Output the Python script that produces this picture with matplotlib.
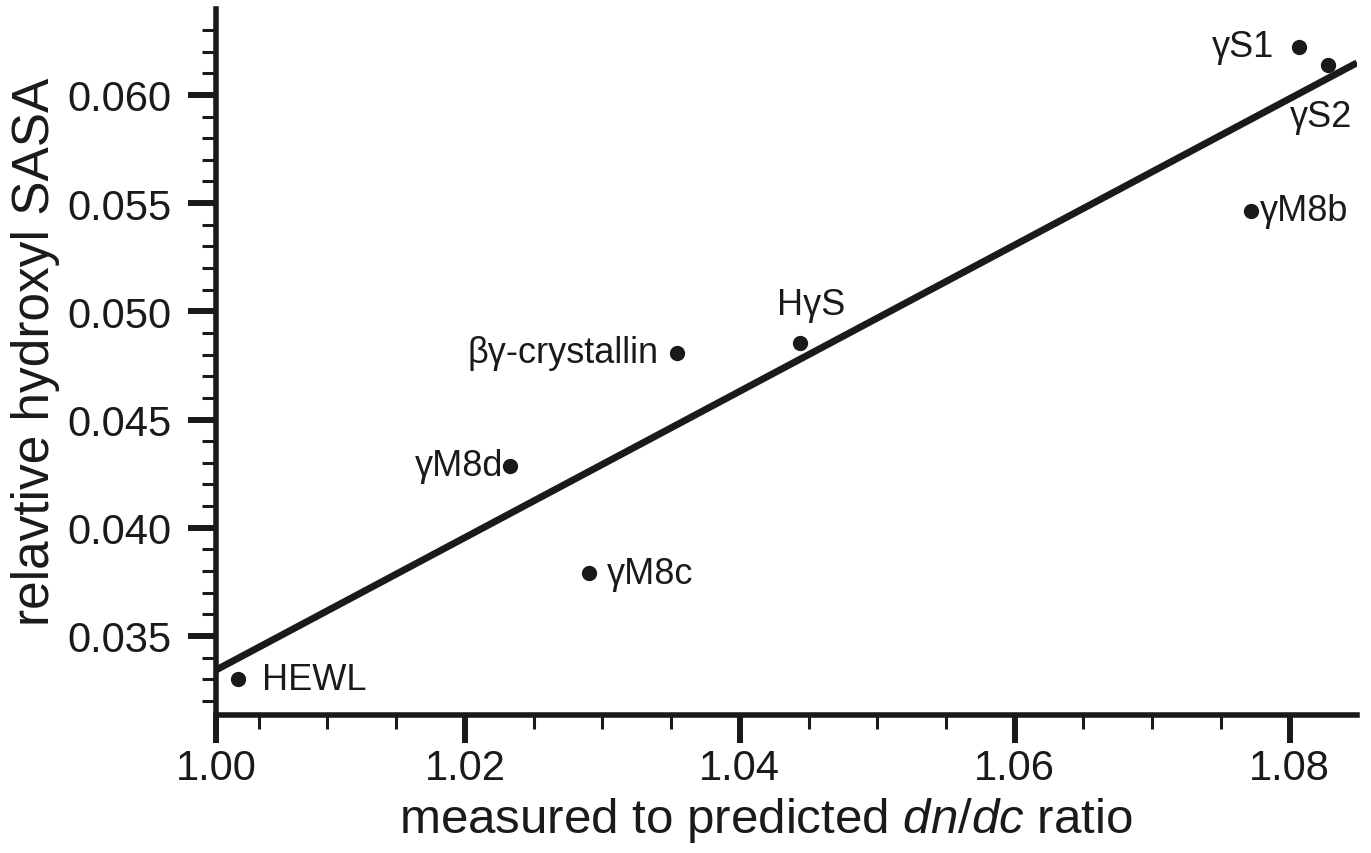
import numpy as np
import matplotlib
matplotlib.use("Agg")
import matplotlib.pyplot as plt
from matplotlib.ticker import MultipleLocator, FormatStrFormatter

plt.rcParams["font.family"] = ["Liberation Sans", "DejaVu Sans"]
plt.rcParams["mathtext.fontset"] = "custom"
plt.rcParams["mathtext.rm"] = "Liberation Sans"
plt.rcParams["mathtext.it"] = "Liberation Sans:italic"

# data
proteins = ["γS1", "γS2", "γM8b", "HγS", "βγ-crystallin", "γM8d", "γM8c", "HEWL"]
dndc_ratio = [1.0807, 1.0828, 1.0772, 1.0444, 1.0354, 1.0233, 1.0290, 1.0035]
hydroxyl_sasa = [0.06222, 0.06139, 0.05464, 0.04854, 0.04808, 0.04286, 0.03791, 0.03301]

# label offsets in points (dx, dy, ha, va)
label_pos = {
    "γS1": (-18, 0, "right", "center"),
    "γS2": (-5, -37, "center", "center"),
    "γM8b": (6, 0, "left", "center"),
    "HγS": (8, 15, "center", "bottom"),
    "βγ-crystallin": (-13, 0, "right", "center"),
    "γM8d": (-5, 0, "right", "center"),
    "γM8c": (13, 0, "left", "center"),
    "HEWL": (17, 0, "left", "center"),
}

# regression line
fit_slope = 0.338
fit_x0 = 1.0019
fit_y0 = 0.03343

x_limits = (1.0019, 1.0849)
y_limits = (0.03135, 0.06397)
x_ticks = [1.0019, 1.02, 1.04, 1.06, 1.08]
x_tick_labels = ["1.00", "1.02", "1.04", "1.06", "1.08"]

fig = plt.figure(figsize=(13.71, 8.54), dpi=100)
ax = fig.add_axes([0.1576, 0.1616, 0.8322, 0.8267])

fit_x = np.array(x_limits)
fit_y = fit_y0 + fit_slope * (fit_x - fit_x0)
ax.plot(fit_x, fit_y, color="#1a1a1a", linewidth=5, solid_capstyle="butt", zorder=2)

ax.plot(dndc_ratio, hydroxyl_sasa, "o", color="#1a1a1a", markersize=10, zorder=3)

for name, x, y in zip(proteins, dndc_ratio, hydroxyl_sasa):
    dx, dy, ha, va = label_pos[name]
    ax.annotate(name, (x, y), xytext=(dx, dy), textcoords="offset points",
                ha=ha, va=va, fontsize=26, color="#1a1a1a")

ax.set_xlim(*x_limits)
ax.set_ylim(*y_limits)
ax.set_xticks(x_ticks)
ax.set_xticklabels(x_tick_labels)
ax.xaxis.set_minor_locator(MultipleLocator(0.005))
ax.yaxis.set_major_locator(MultipleLocator(0.005))
ax.yaxis.set_minor_locator(MultipleLocator(0.001))
ax.yaxis.set_major_formatter(FormatStrFormatter("%.3f"))

for side in ["top", "right"]:
    ax.spines[side].set_visible(False)
for side in ["left", "bottom"]:
    ax.spines[side].set_linewidth(4)
    ax.spines[side].set_color("#1a1a1a")

ax.tick_params(which="major", direction="out", length=20, width=4.3,
               color="#1a1a1a", labelsize=30, labelcolor="#1a1a1a")
ax.tick_params(which="minor", direction="out", length=10, width=2.2, color="#1a1a1a")
ax.tick_params(axis="x", which="major", pad=4)
ax.tick_params(axis="y", which="major", pad=12)

ax.set_xlabel(r"measured to predicted $\mathit{dn/dc}$ ratio", fontsize=35.5,
              color="#1a1a1a")
ax.set_ylabel("relavtive hydroxyl SASA", fontsize=37, color="#1a1a1a")
ax.xaxis.set_label_coords(0.482, -0.114)
ax.yaxis.set_label_coords(-0.137, 0.516)

fig.savefig("out.png", dpi=100)
